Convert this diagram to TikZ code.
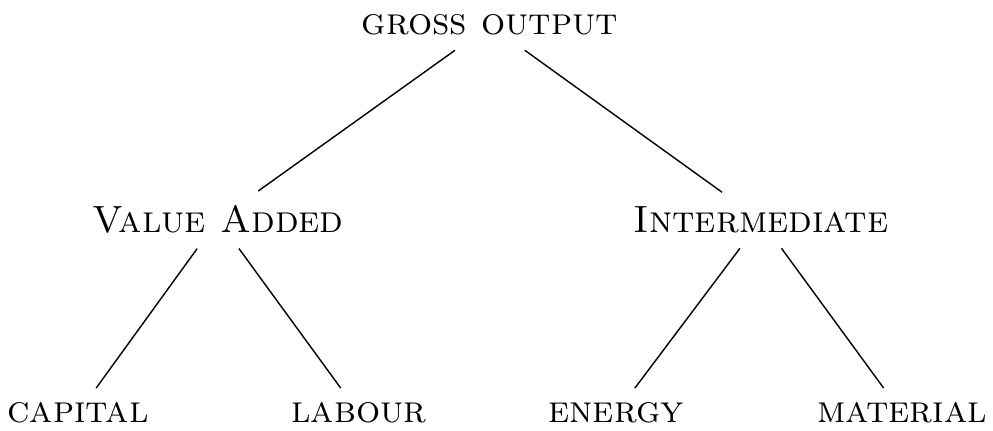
\documentclass[tikz,border=0pt]{standalone}
\usepackage{tikz}
\usetikzlibrary{positioning}

\begin{document}
\begin{tikzpicture}[x=0.01cm,y=-0.01cm,
    lbl/.style={anchor=base,font=\fontsize{10.8}{13}\selectfont\scshape,inner sep=4pt}]
    \useasboundingbox (0,0) rectangle (993,431);

    % root
    \node[lbl] (gross) at (490,35) {gross output};

    % middle level
    \node[lbl] (value) at (218,233) {Value Added};
    \node[lbl] (inter) at (761,233) {Intermediate};

    % leaves
    \node[lbl] (capital) at (78,423) {capital};
    \node[lbl] (labour) at (359,423) {labour};
    \node[lbl] (energy) at (616,423) {energy};
    \node[lbl] (material) at (902,423) {material};

    % branches
    \draw (gross) -- (value);
    \draw (gross) -- (inter);
    \draw (value) -- (capital);
    \draw (value) -- (labour);
    \draw (inter) -- (energy);
    \draw (inter) -- (material);
\end{tikzpicture}
\end{document}
